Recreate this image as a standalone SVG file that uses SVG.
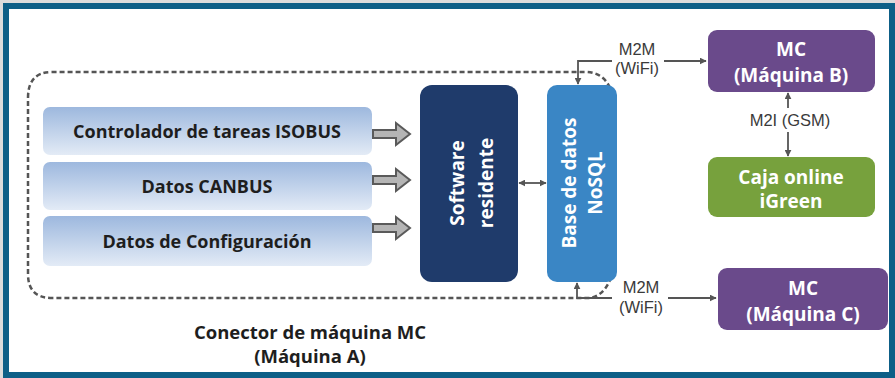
<svg xmlns="http://www.w3.org/2000/svg" width="895" height="378" viewBox="0 0 895 378">
<defs>
<linearGradient id="inGrad" x1="0" y1="0" x2="0" y2="1">
<stop offset="0" stop-color="#9db8de"/>
<stop offset="1" stop-color="#e3ebf6"/>
</linearGradient>
<marker id="ah" viewBox="0 0 10 10" refX="9" refY="5" markerWidth="7" markerHeight="7" orient="auto-start-reverse" markerUnits="userSpaceOnUse">
<path d="M0,0 L10,5 L0,10 z" fill="#555"/>
</marker>
<path id="blockArrow" d="M0,-4 H23 V-11 L37,0 L23,11 V4 H0 Z"/>
</defs>
<style>
.frame{fill:#ffffff;stroke:#0d5f87;stroke-width:6}
.inbox{fill:url(#inGrad)}
.intext{font-family:"Open Sans",sans-serif;font-weight:bold;font-size:18px;fill:#1e1e1e;text-anchor:middle}
.wtext{font-family:"Open Sans",sans-serif;font-weight:bold;font-size:19px;fill:#ffffff;text-anchor:middle}
.lbl{font-family:"Liberation Sans",Arial,sans-serif;font-size:16.5px;fill:#3a3a3a;text-anchor:middle}
.cap{font-family:"Open Sans",sans-serif;font-weight:bold;font-size:18.5px;fill:#1e1e1e;text-anchor:middle}
.conn{fill:none;stroke:#555;stroke-width:1.8}
.dash{fill:none;stroke:#555;stroke-width:2.5;stroke-dasharray:5 3}
.barrow{fill:#b5b5b5;stroke:#5a5a5a;stroke-width:2}
</style>
<rect x="0" y="0" width="895" height="378" fill="#dcdcdc"/>
<rect class="frame" x="6" y="6" width="886" height="369"/>

<g id="boundary">
<path class="dash" d="M610,88 Q603,72 585,72 H52 Q28,72 28,98 V274 Q28,298 52,298 H590 Q603,296 610,280"/>
</g>

<g id="controlador">
<rect class="inbox" x="43" y="107" width="329" height="48" rx="7"/>
<text class="intext" x="207" y="138">Controlador de tareas ISOBUS</text>
</g>
<g id="canbus">
<rect class="inbox" x="43" y="162" width="329" height="48" rx="7"/>
<text class="intext" x="207" y="193">Datos CANBUS</text>
</g>
<g id="configuracion">
<rect class="inbox" x="43" y="216" width="329" height="50" rx="7"/>
<text class="intext" x="207" y="248">Datos de Configuración</text>
</g>

<g id="software">
<rect x="420" y="85" width="98" height="197" rx="12" fill="#1f3b6b"/>
<text class="wtext" transform="translate(457,183) rotate(-90)" dominant-baseline="central">Software</text>
<text class="wtext" transform="translate(486,183) rotate(-90)" dominant-baseline="central">residente</text>
</g>

<g id="basedatos">
<rect x="547" y="85" width="70" height="197" rx="10" fill="#3a86c5"/>
<text class="wtext" transform="translate(569,183) rotate(-90)" dominant-baseline="central">Base de datos</text>
<text class="wtext" transform="translate(595,183) rotate(-90)" dominant-baseline="central">NoSQL</text>
</g>

<g id="maquinaB">
<rect x="708" y="30" width="167" height="62" rx="9" fill="#6a4a8b"/>
<text class="wtext" x="791" y="56">MC</text>
<text class="wtext" x="791" y="82">(Máquina B)</text>
</g>

<g id="igreen">
<rect x="708" y="157" width="167" height="60" rx="9" fill="#77a13d"/>
<text class="wtext" x="791" y="184">Caja online</text>
<text class="wtext" x="791" y="208">iGreen</text>
</g>

<g id="maquinaC">
<rect x="718" y="268" width="170" height="62" rx="9" fill="#6a4a8b"/>
<text class="wtext" x="803" y="295">MC</text>
<text class="wtext" x="803" y="321">(Máquina C)</text>
</g>

<g id="caption">
<text class="cap" x="310" y="339">Conector de máquina MC</text>
<text class="cap" x="310" y="363">(Máquina A)</text>
</g>

<g id="connectors">
<use href="#blockArrow" class="barrow" x="373" y="134"/>
<use href="#blockArrow" class="barrow" x="373" y="180"/>
<use href="#blockArrow" class="barrow" x="373" y="228"/>
<line class="conn" x1="519" y1="183" x2="546" y2="183" marker-start="url(#ah)" marker-end="url(#ah)"/>
<path class="conn" d="M612,61 H578 V84" marker-end="url(#ah)"/>
<line class="conn" x1="664" y1="61" x2="706" y2="61" marker-end="url(#ah)"/>
<text class="lbl" x="637" y="55">M2M</text>
<text class="lbl" x="637" y="74">(WiFi)</text>
<line class="conn" x1="788" y1="93" x2="788" y2="108" marker-start="url(#ah)"/>
<line class="conn" x1="788" y1="132" x2="788" y2="156" marker-end="url(#ah)"/>
<text class="lbl" x="790" y="126">M2I (GSM)</text>
<path class="conn" d="M612,298 H577 V283" marker-end="url(#ah)"/>
<line class="conn" x1="668" y1="298" x2="716" y2="298" marker-end="url(#ah)"/>
<text class="lbl" x="641" y="293">M2M</text>
<text class="lbl" x="641" y="313">(WiFi)</text>
</g>
</svg>
